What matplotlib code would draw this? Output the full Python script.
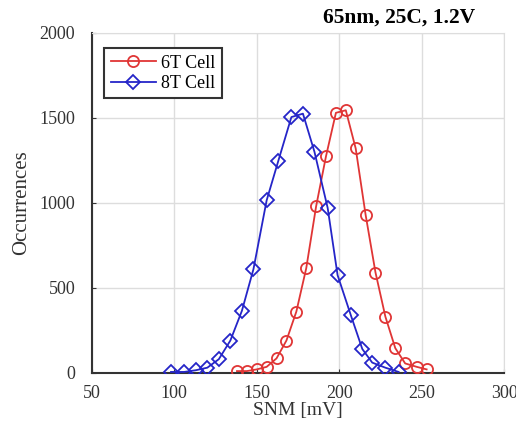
import matplotlib
matplotlib.use("Agg")
import matplotlib.pyplot as plt

plt.rcParams['font.family'] = ['Liberation Serif', 'DejaVu Serif']

# SNM values [mV] and occurrence counts
snm_6t = [138, 144, 150, 156, 162, 168, 174, 180, 186, 192,
          198, 204, 210, 216, 222, 228, 234, 240, 247, 253]
occ_6t = [10, 10, 20, 35, 85, 190, 360, 615, 980, 1275,
          1530, 1545, 1320, 930, 590, 330, 145, 55, 35, 20]

snm_8t = [98, 106, 113, 120, 127, 134, 141, 148, 156, 163,
          171, 178, 185, 193, 199, 207, 214, 220, 228, 236]
occ_8t = [5, 5, 15, 30, 80, 190, 365, 610, 1015, 1245,
          1505, 1525, 1300, 970, 575, 340, 140, 60, 30, 5]

x_ticks = [50, 100, 150, 200, 250, 300]
y_ticks = [0, 500, 1000, 1500, 2000]

fig = plt.figure(figsize=(5.16, 4.28), dpi=100)
ax = fig.add_axes([0.178, 0.129, 0.799, 0.794])

ax.plot(snm_6t, occ_6t, color='#e03535', marker='o', ms=8, mfc='none',
        mew=1.3, lw=1.3, label='6T Cell', zorder=3)
ax.plot(snm_8t, occ_8t, color='#2525c8', marker='D', ms=7, mfc='none',
        mew=1.3, lw=1.3, label='8T Cell', zorder=3)

ax.set_xlim(50, 300)
ax.set_ylim(0, 2000)
ax.set_xticks(x_ticks)
ax.set_yticks(y_ticks)
ax.tick_params(direction='in', length=3, labelsize=13, colors='#333333')
ax.tick_params(axis='y', pad=12)
ax.tick_params(axis='x', pad=9)
ax.grid(True, color='#dddddd', lw=1)
ax.set_axisbelow(True)

for side in ['top', 'right']:
    ax.spines[side].set_color('#dddddd')
for side in ['left', 'bottom']:
    ax.spines[side].set_color('#333333')
    ax.spines[side].set_linewidth(1.5)

ax.set_xlabel('SNM [mV]', fontsize=14, labelpad=0, color='#333333')
ax.set_ylabel('Occurrences', fontsize=15, labelpad=6, color='#333333')

fig.text(0.92, 0.96, '65nm, 25C, 1.2V', ha='right', va='center',
         fontsize=15.5, fontweight='bold')

leg = ax.legend(loc='upper left', bbox_to_anchor=(0.03, 0.955), fontsize=13,
                fancybox=False, edgecolor='#333333', framealpha=1,
                handlelength=2.5, handletextpad=0.3, borderpad=0.35,
                labelspacing=0.2, borderaxespad=0)
leg.get_frame().set_linewidth(1.5)

fig.savefig('out.png', dpi=100)
